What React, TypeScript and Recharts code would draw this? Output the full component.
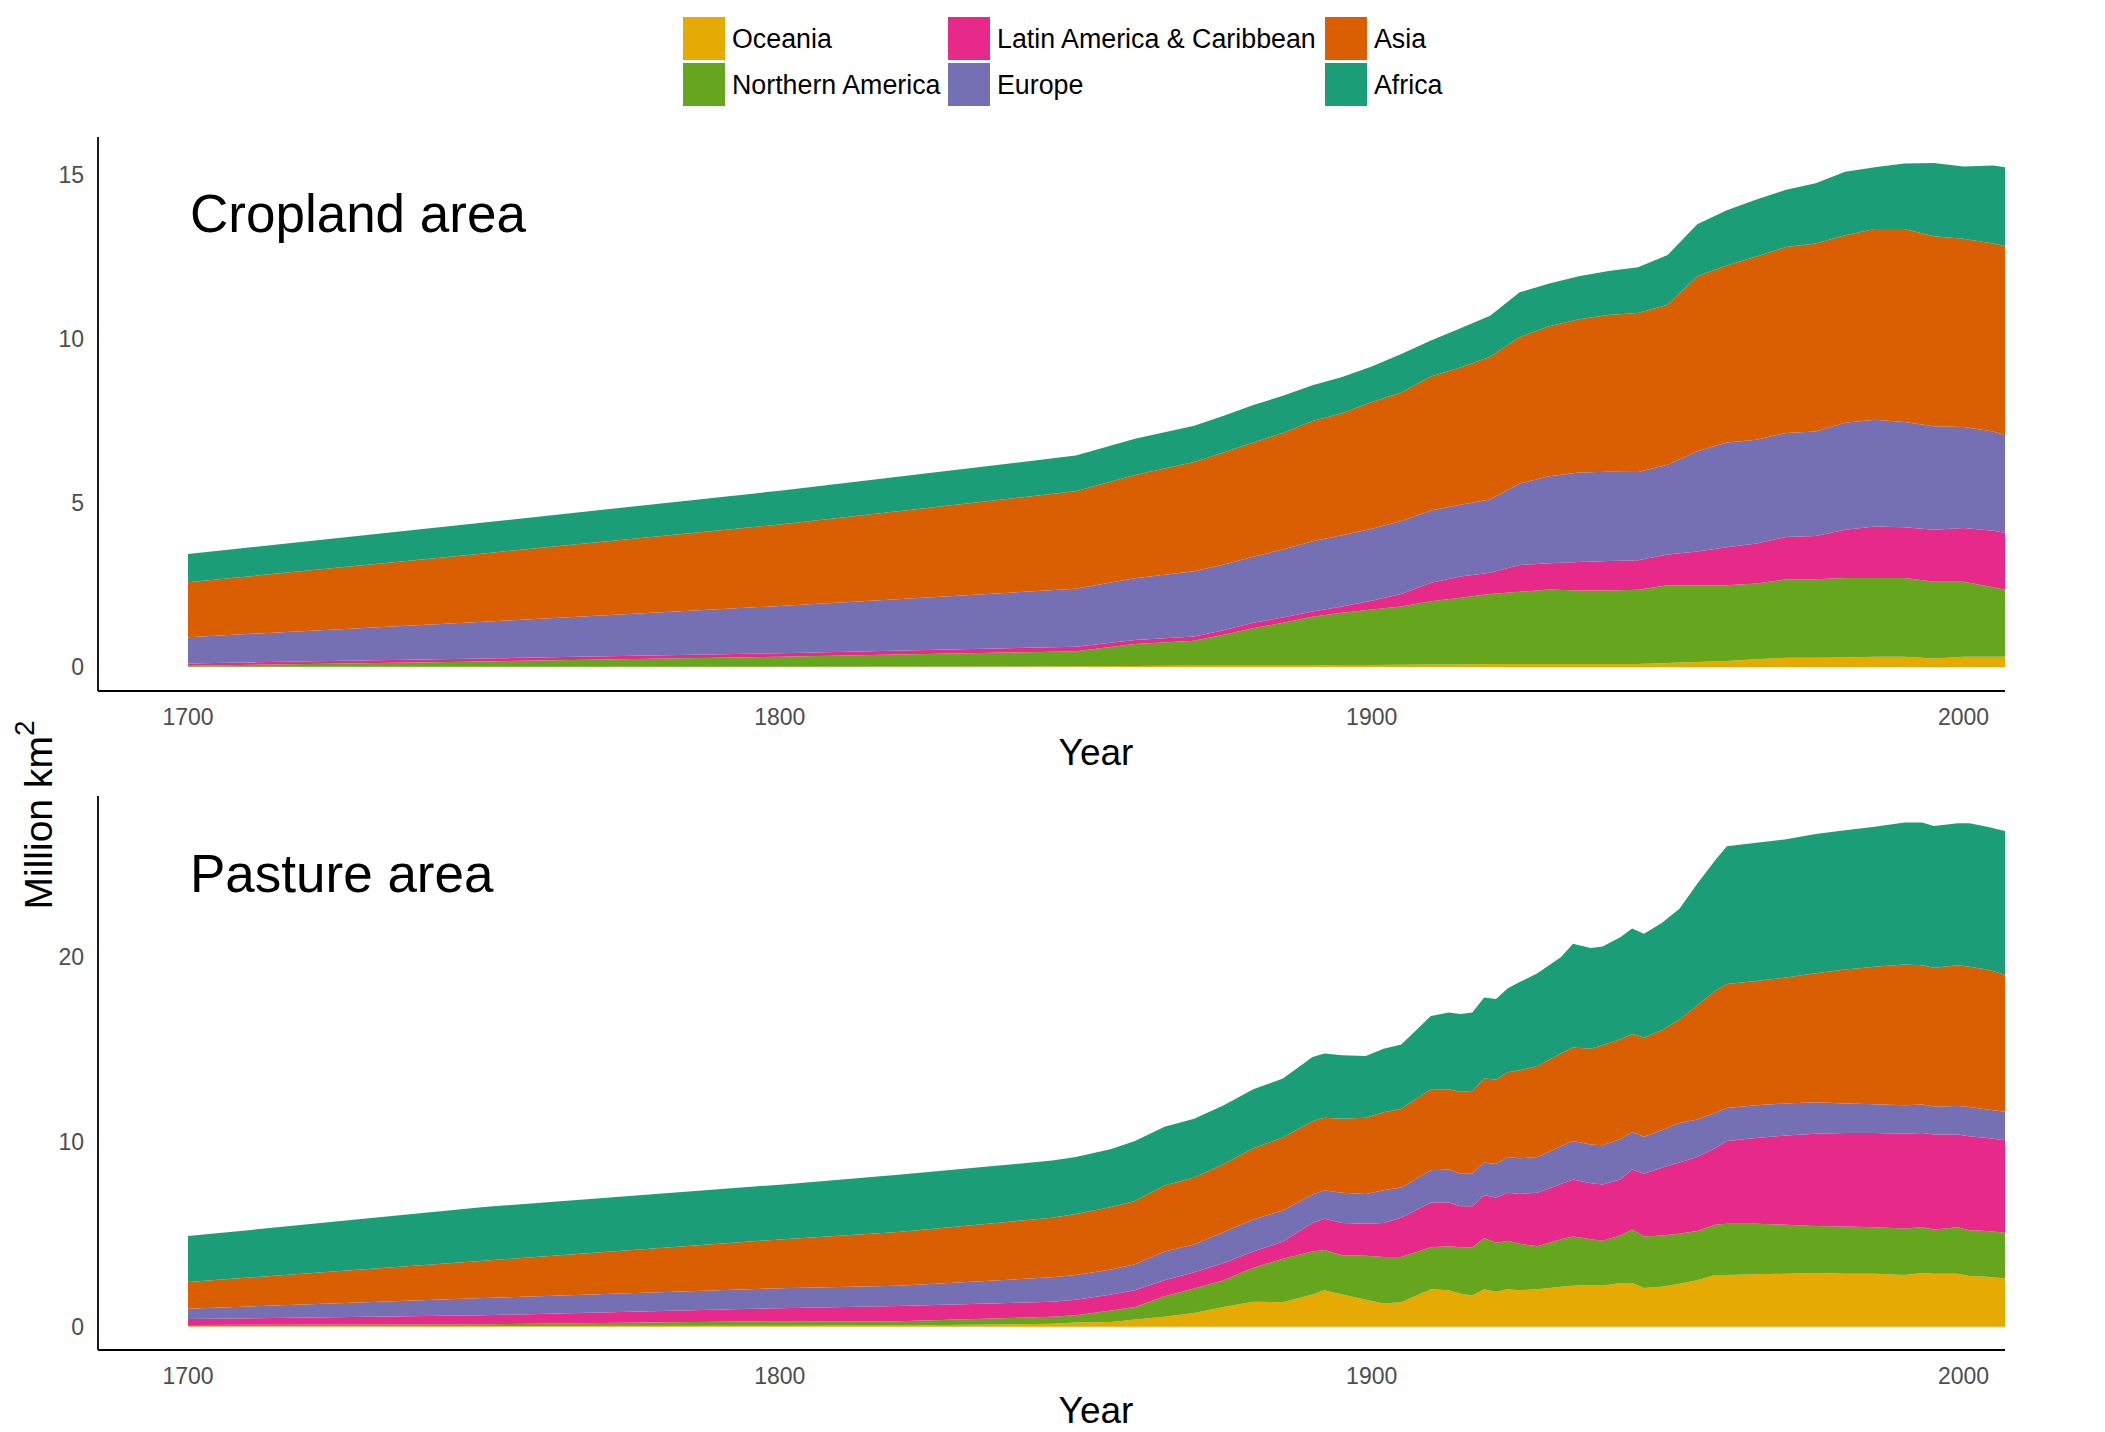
import { AreaChart, Area, XAxis, YAxis } from "recharts";

const regions = [
  "Oceania",
  "Northern America",
  "Latin America & Caribbean",
  "Europe",
  "Asia",
  "Africa",
];
const regionKeys = ["oceania", "northAmerica", "latinAmerica", "europe", "asia", "africa"];
const regionColors = ["#E6AB02", "#66A61E", "#E7298A", "#7570B3", "#D95F02", "#1B9E77"];

const yearTicks = [1700, 1800, 1900, 2000];
const cropTicks = [0, 5, 10, 15];
const pastureTicks = [0, 10, 20];

// cropland, million km2
const cropYears = [1700, 1750, 1800, 1850, 1860, 1870, 1875, 1880, 1885, 1890, 1895, 1900, 1905, 1910, 1915, 1920, 1925, 1930, 1935, 1940, 1945, 1950, 1955, 1960, 1965, 1970, 1975, 1980, 1985, 1990, 1995, 2000, 2005, 2007];
const cropOceania = [0.01, 0.01, 0.01, 0.02, 0.03, 0.05, 0.05, 0.05, 0.05, 0.05, 0.06, 0.06, 0.07, 0.08, 0.08, 0.09, 0.09, 0.09, 0.09, 0.09, 0.09, 0.12, 0.15, 0.18, 0.24, 0.28, 0.28, 0.29, 0.31, 0.31, 0.26, 0.31, 0.31, 0.31];
const cropNorthAmerica = [0.03, 0.16, 0.3, 0.46, 0.67, 0.75, 0.93, 1.13, 1.3, 1.48, 1.59, 1.69, 1.77, 1.92, 2.03, 2.13, 2.2, 2.27, 2.24, 2.24, 2.26, 2.37, 2.34, 2.31, 2.3, 2.39, 2.39, 2.42, 2.4, 2.4, 2.34, 2.29, 2.12, 2.04];
const cropLatinAmerica = [0.07, 0.09, 0.11, 0.14, 0.12, 0.13, 0.14, 0.17, 0.16, 0.16, 0.19, 0.27, 0.38, 0.57, 0.65, 0.65, 0.82, 0.8, 0.87, 0.9, 0.9, 0.94, 1.03, 1.16, 1.22, 1.29, 1.32, 1.47, 1.57, 1.55, 1.58, 1.63, 1.72, 1.74];
const cropEurope = [0.8, 1.12, 1.44, 1.76, 1.88, 1.99, 2.0, 2.01, 2.07, 2.14, 2.17, 2.19, 2.23, 2.2, 2.18, 2.23, 2.48, 2.65, 2.72, 2.72, 2.69, 2.73, 3.05, 3.19, 3.16, 3.17, 3.18, 3.26, 3.25, 3.2, 3.15, 3.08, 3.02, 2.97];
const cropAsia = [1.67, 2.08, 2.48, 2.97, 3.15, 3.32, 3.41, 3.48, 3.55, 3.66, 3.72, 3.86, 3.91, 4.08, 4.18, 4.35, 4.46, 4.57, 4.67, 4.77, 4.84, 4.87, 5.33, 5.39, 5.58, 5.66, 5.73, 5.71, 5.81, 5.88, 5.79, 5.73, 5.73, 5.76];
const cropAfrica = [0.86, 0.94, 1.03, 1.09, 1.1, 1.11, 1.12, 1.14, 1.13, 1.09, 1.1, 1.08, 1.17, 1.09, 1.2, 1.25, 1.36, 1.3, 1.31, 1.34, 1.39, 1.52, 1.58, 1.68, 1.74, 1.74, 1.83, 1.93, 1.88, 1.99, 2.23, 2.2, 2.37, 2.4];

// pasture, million km2
const pastureYears = [1700, 1750, 1800, 1820, 1846, 1850, 1856, 1860, 1865, 1870, 1875, 1880, 1885, 1890, 1892, 1895, 1899, 1902, 1905, 1910, 1913, 1915, 1917, 1919, 1921, 1923, 1925, 1928, 1932, 1934, 1937, 1939, 1942, 1944, 1946, 1949, 1952, 1955, 1958, 1960, 1965, 1970, 1975, 1980, 1985, 1990, 1993, 1995, 1999, 2001, 2004, 2007];
const pastureOceania = [0.02, 0.04, 0.05, 0.06, 0.16, 0.23, 0.25, 0.39, 0.54, 0.74, 1.06, 1.35, 1.32, 1.74, 1.97, 1.74, 1.45, 1.26, 1.32, 2.03, 1.97, 1.78, 1.68, 2.03, 1.89, 2.03, 1.97, 2.03, 2.16, 2.22, 2.26, 2.22, 2.36, 2.36, 2.09, 2.16, 2.32, 2.51, 2.8, 2.8, 2.84, 2.86, 2.9, 2.86, 2.86, 2.8, 2.9, 2.86, 2.86, 2.74, 2.7, 2.61];
const pastureNorthAmerica = [0.07, 0.09, 0.25, 0.23, 0.38, 0.39, 0.62, 0.67, 1.1, 1.33, 1.45, 1.84, 2.35, 2.32, 2.18, 2.12, 2.38, 2.51, 2.45, 2.26, 2.38, 2.51, 2.61, 2.76, 2.65, 2.61, 2.51, 2.32, 2.57, 2.65, 2.47, 2.42, 2.57, 2.89, 2.78, 2.77, 2.7, 2.67, 2.71, 2.76, 2.72, 2.65, 2.55, 2.55, 2.51, 2.51, 2.47, 2.39, 2.51, 2.48, 2.48, 2.47];
const pastureLatinAmerica = [0.32, 0.49, 0.7, 0.83, 0.81, 0.83, 0.87, 0.91, 0.87, 0.87, 0.93, 0.87, 0.93, 1.54, 1.68, 1.74, 1.73, 1.83, 2.12, 2.43, 2.37, 2.22, 2.22, 2.32, 2.45, 2.6, 2.7, 2.89, 2.99, 3.09, 3.03, 3.05, 3.03, 3.25, 3.4, 3.66, 3.86, 3.99, 4.14, 4.48, 4.64, 4.82, 4.98, 5.06, 5.1, 5.12, 5.1, 5.14, 5.02, 5.07, 5.02, 5.0];
const pastureEurope = [0.56, 0.93, 1.08, 1.1, 1.32, 1.35, 1.35, 1.41, 1.55, 1.5, 1.68, 1.73, 1.68, 1.54, 1.55, 1.64, 1.62, 1.78, 1.64, 1.74, 1.78, 1.76, 1.76, 1.77, 1.8, 1.93, 1.93, 1.93, 2.03, 2.08, 2.09, 2.12, 2.18, 2.02, 2.0, 2.03, 2.13, 2.03, 1.9, 1.78, 1.77, 1.74, 1.7, 1.6, 1.56, 1.54, 1.54, 1.52, 1.54, 1.59, 1.54, 1.54];
const pastureAsia = [1.45, 2.02, 2.64, 2.9, 3.22, 3.29, 3.38, 3.42, 3.57, 3.63, 3.67, 3.86, 3.95, 3.96, 3.92, 4.0, 4.12, 4.21, 4.25, 4.38, 4.34, 4.43, 4.47, 4.54, 4.57, 4.58, 4.75, 4.92, 5.02, 5.06, 5.17, 5.4, 5.4, 5.31, 5.37, 5.41, 5.59, 6.18, 6.6, 6.71, 6.72, 6.81, 6.98, 7.24, 7.43, 7.61, 7.53, 7.49, 7.61, 7.58, 7.57, 7.4];
const pastureAfrica = [2.48, 2.9, 2.96, 3.09, 3.09, 3.08, 3.13, 3.24, 3.18, 3.17, 3.18, 3.19, 3.19, 3.48, 3.47, 3.43, 3.34, 3.43, 3.47, 3.96, 4.15, 4.2, 4.25, 4.38, 4.36, 4.55, 4.77, 5.02, 5.21, 5.6, 5.45, 5.35, 5.51, 5.7, 5.6, 5.79, 5.99, 6.56, 7.05, 7.44, 7.47, 7.47, 7.53, 7.53, 7.57, 7.68, 7.72, 7.67, 7.68, 7.76, 7.72, 7.78];

function buildRows(years: number[], series: number[][]) {
  return years.map((year, i) => {
    const row: Record<string, number> = { year };
    regionKeys.forEach((k, j) => {
      row[k] = series[j][i];
    });
    return row;
  });
}

const cropRows = buildRows(cropYears, [cropOceania, cropNorthAmerica, cropLatinAmerica, cropEurope, cropAsia, cropAfrica]);
const pastureRows = buildRows(pastureYears, [pastureOceania, pastureNorthAmerica, pastureLatinAmerica, pastureEurope, pastureAsia, pastureAfrica]);

const FONT = "'Liberation Sans', Arial, Helvetica, sans-serif";
const tickStyle = { fontSize: 23, fill: "#4D4D4D", fontFamily: FONT };
const axisStyle = { stroke: "#000", strokeWidth: 1.8 };

function Panel({
  rows,
  top,
  height,
  marginTop,
  yDomain,
  yTicks,
}: {
  rows: Record<string, number>[];
  top: number;
  height: number;
  marginTop: number;
  yDomain: [number, number];
  yTicks: number[];
}) {
  return (
    <div style={{ position: "absolute", left: 0, top }}>
      <AreaChart
        width={2105}
        height={height}
        data={rows}
        margin={{ top: marginTop, right: 100, left: 0, bottom: 0 }}
      >
        <XAxis
          dataKey="year"
          type="number"
          domain={[1684.8, 2007]}
          ticks={yearTicks}
          allowDataOverflow
          height={40}
          tickLine={false}
          tickMargin={12}
          axisLine={axisStyle}
          tick={tickStyle}
        />
        <YAxis
          type="number"
          domain={yDomain}
          ticks={yTicks}
          allowDataOverflow
          width={98}
          tickLine={false}
          tickMargin={8}
          axisLine={axisStyle}
          tick={tickStyle}
        />
        {regionKeys.map((k, i) => (
          <Area
            key={k}
            type="linear"
            dataKey={k}
            name={regions[i]}
            stackId="a"
            stroke="none"
            fill={regionColors[i]}
            fillOpacity={1}
            isAnimationActive={false}
          />
        ))}
      </AreaChart>
    </div>
  );
}

const legendCols = [683, 948, 1325];
const legendRows = [17, 63];

export default function App() {
  return (
    <div
      style={{
        position: "absolute",
        left: 0,
        top: 0,
        width: 2105,
        height: 1432,
        background: "#fff",
        overflow: "hidden",
      }}
    >
      <Panel rows={cropRows} top={0} height={731} marginTop={137} yDomain={[-0.73, 16.14]} yTicks={cropTicks} />
      <Panel rows={pastureRows} top={720} height={670} marginTop={76} yDomain={[-1.26, 28.69]} yTicks={pastureTicks} />
      <svg
        width={2105}
        height={1432}
        style={{ position: "absolute", left: 0, top: 0, pointerEvents: "none" }}
        fontFamily={FONT}
      >
        {regions.map((r, i) => {
          const x = legendCols[Math.floor(i / 2)];
          const y = legendRows[i % 2];
          return (
            <g key={r}>
              <rect x={x} y={y} width={42} height={43} fill={regionColors[i]} />
              <text x={x + 49} y={y + 31} fontSize={26.8} fill="#000">
                {r}
              </text>
            </g>
          );
        })}
        <text x={190} y={232} fontSize={53} fill="#000">
          Cropland area
        </text>
        <text x={190} y={892} fontSize={53} fill="#000">
          Pasture area
        </text>
        <text x={1096} y={765} fontSize={37} textAnchor="middle" fill="#000">
          Year
        </text>
        <text x={1096} y={1423} fontSize={37} textAnchor="middle" fill="#000">
          Year
        </text>
        <text transform="translate(52,815) rotate(-90)" textAnchor="middle" fontSize={39} fill="#000">
          Million km
          <tspan fontSize={28} dy={-18}>
            2
          </tspan>
        </text>
      </svg>
    </div>
  );
}
